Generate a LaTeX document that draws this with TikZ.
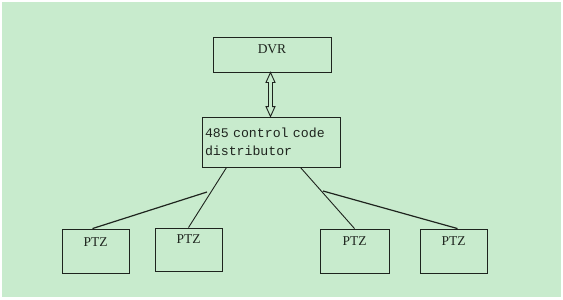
\documentclass[tikz,border=0pt]{standalone}
\usepackage{fontspec}
\setmainfont{Liberation Serif}
\newfontfamily\monofont[WordSpace={1,0,0}]{Liberation Mono}
\usetikzlibrary{arrows.meta}
\definecolor{bgreen}{RGB}{200,235,205}
\definecolor{inkc}{RGB}{30,36,30}
\tikzset{
  box/.style={draw=inkc, line width=0.9pt, inner xsep=0pt, inner ysep=0pt, font=\fontsize{13.5}{15}\selectfont, text=inkc},
  link/.style={draw=inkc, line width=0.9pt},
  thicklink/.style={draw=inkc, line width=1.2pt},
  dblarrow/.style={draw=inkc, line width=0.9pt, line join=miter}
}
\begin{document}
\begin{tikzpicture}[x=1pt,y=-1pt]
\useasboundingbox (0,0) rectangle (563,300);
\fill[white] (0,0) rectangle (563,300);
\fill[bgreen] (2,2) rectangle (561,297);
\node[box, minimum width=118pt, text height=16pt, text depth=19pt] (dvr) at (272,54.5) {DVR};
\node[box, minimum width=138pt, minimum height=50pt, text width=132pt, align=left,
      font=\monofont\fontsize{13.2}{18}\selectfont] (dist) at (271,142) {485 control code\\distributor};
\node[box, minimum width=67pt, text height=17pt, text depth=27pt] (ptz1) at (95.5,251) {PTZ};
\node[box, minimum width=67pt, text height=15pt, text depth=28pt] (ptz2) at (188.5,249.5) {PTZ};
\node[box, minimum width=69pt, text height=16pt, text depth=28pt] (ptz3) at (354.5,251) {PTZ};
\node[box, minimum width=67pt, text height=16pt, text depth=28pt] (ptz4) at (453.5,251) {PTZ};
\coordinate (at) at ([xshift=-1.5pt]dvr.south);
\coordinate (ab) at ([xshift=-0.5pt]dist.north);
\coordinate (lj) at (207,192);
\coordinate (rj) at (323,191);
\draw[dblarrow] (at) -- ++(4.5,10) -- ++(-2.5,0) -- ([xshift=2pt,yshift=10pt]ab)
  -- ++(2.5,0) -- (ab) -- ++(-4.5,-10) -- ++(2.5,0)
  -- ([xshift=-2pt,yshift=-10pt]at) -- ++(-2.5,0) -- cycle;
\draw[link] (dist.south west) ++(25,0) -- (ptz2.north);
\draw[link] (dist.south east) ++(-40,0) -- (ptz3.north);
\draw[thicklink] (lj) -- ([xshift=-3pt]ptz1.north);
\draw[thicklink] (rj) -- ([xshift=4pt]ptz4.north);
\end{tikzpicture}
\end{document}
